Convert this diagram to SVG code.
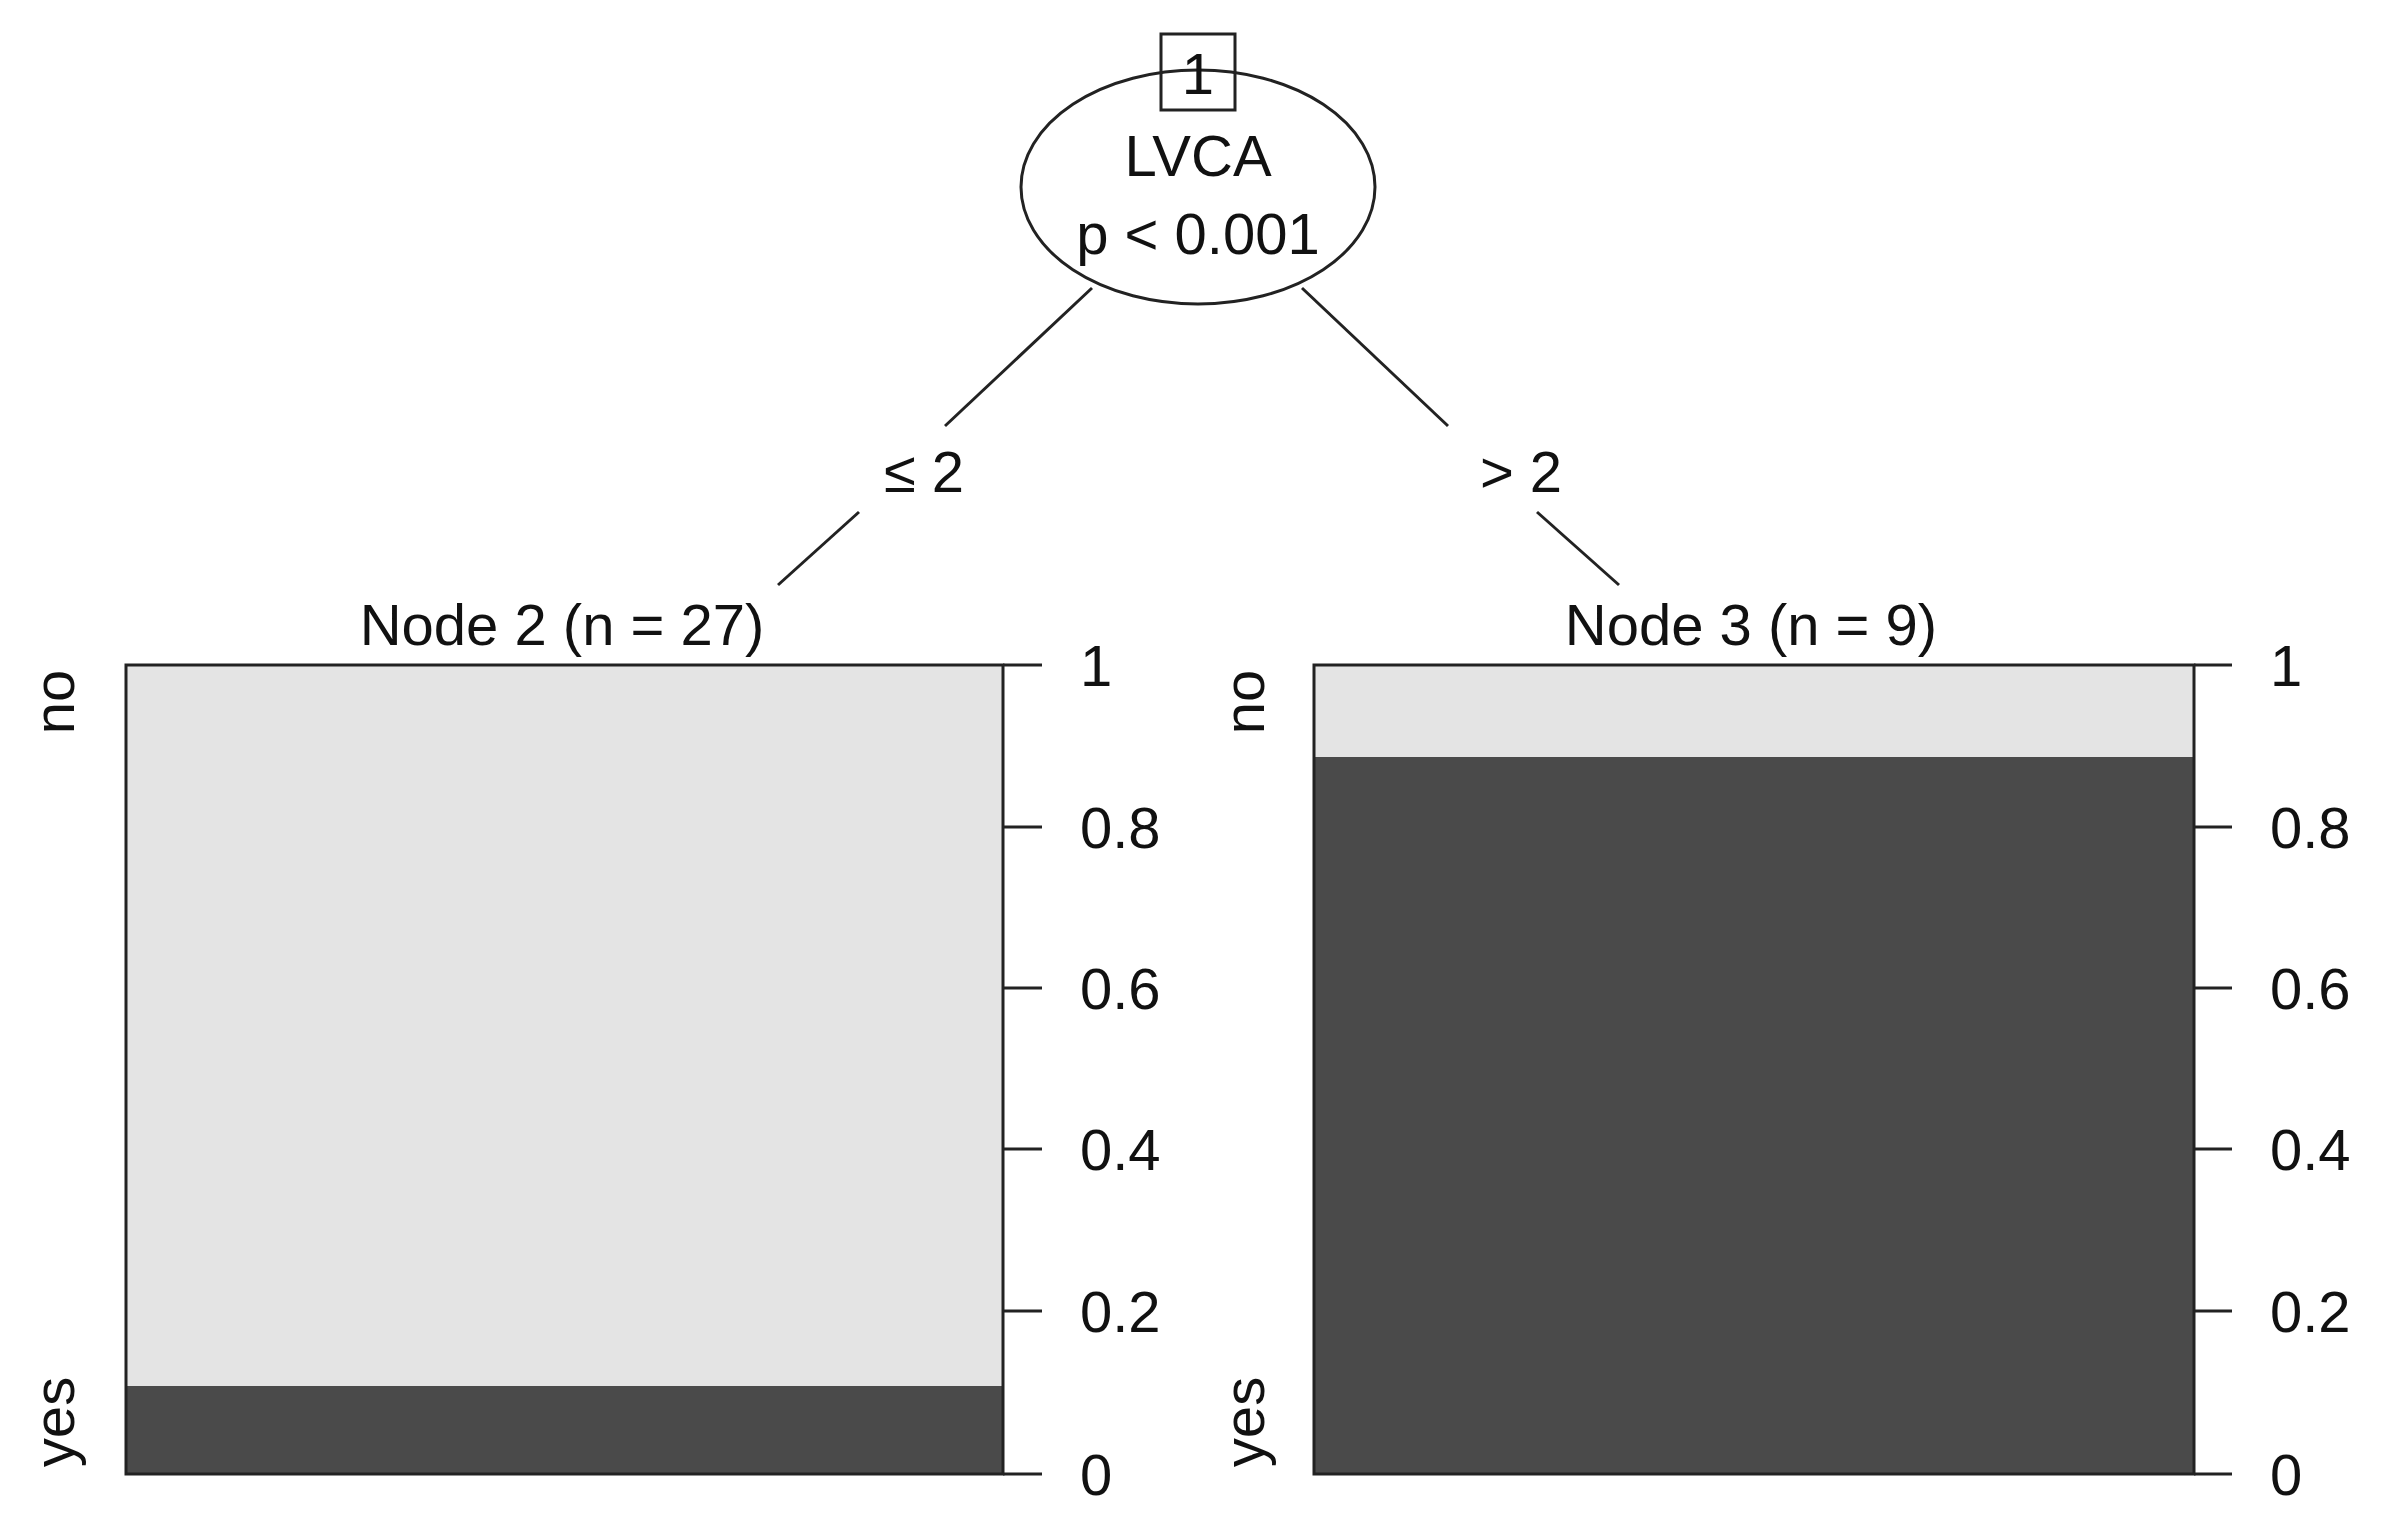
<svg xmlns="http://www.w3.org/2000/svg" width="2390" height="1519" viewBox="0 0 2390 1519">
<style>
text{font-family:"Liberation Sans",Arial,sans-serif;font-size:58px;fill:#111}
.ln{stroke:#222;stroke-width:3;fill:none}
.c{text-anchor:middle}
</style>
<rect width="2390" height="1519" fill="#fff"/>
<g id="connectors">
<line class="ln" x1="1092" y1="288" x2="945" y2="426"/>
<line class="ln" x1="859" y1="512" x2="778" y2="585"/>
<line class="ln" x1="1302" y1="288" x2="1448" y2="426"/>
<line class="ln" x1="1537" y1="512" x2="1619" y2="585"/>
<text class="c" x="924" y="492">≤ 2</text>
<text class="c" x="1521" y="492">&gt; 2</text>
</g>
<g id="node1">
<ellipse class="ln" cx="1198" cy="187" rx="177" ry="117" fill="#fff"/>
<rect class="ln" x="1161" y="34" width="74" height="76" fill="#fff"/>
<text class="c" x="1198" y="94">1</text>
<text class="c" x="1198" y="176">LVCA</text>
<text class="c" x="1198" y="254">p &lt; 0.001</text>
</g>
<g id="node2">
<text class="c" x="562" y="645">Node 2 (n = 27)</text>
<rect x="126" y="665" width="877" height="721" fill="#e4e4e4"/>
<rect x="126" y="1386" width="877" height="88" fill="#4a4a4a"/>
<rect class="ln" x="126" y="665" width="877" height="809"/>
<path class="ln" d="M1003 665H1042M1003 827H1042M1003 988H1042M1003 1149H1042M1003 1311H1042M1003 1474H1042"/>
<text x="1080" y="686">1</text><text x="1080" y="848">0.8</text><text x="1080" y="1009">0.6</text><text x="1080" y="1170">0.4</text><text x="1080" y="1332">0.2</text><text x="1080" y="1495">0</text>
<text class="c" transform="translate(74,702) rotate(-90)">no</text>
<text class="c" transform="translate(74,1422) rotate(-90)">yes</text>
</g>
<g id="node3">
<text class="c" x="1751" y="645">Node 3 (n = 9)</text>
<rect x="1314" y="665" width="880" height="92" fill="#e4e4e4"/>
<rect x="1314" y="757" width="880" height="717" fill="#4a4a4a"/>
<rect class="ln" x="1314" y="665" width="880" height="809"/>
<path class="ln" d="M2194 665H2232M2194 827H2232M2194 988H2232M2194 1149H2232M2194 1311H2232M2194 1474H2232"/>
<text x="2270" y="686">1</text><text x="2270" y="848">0.8</text><text x="2270" y="1009">0.6</text><text x="2270" y="1170">0.4</text><text x="2270" y="1332">0.2</text><text x="2270" y="1495">0</text>
<text class="c" transform="translate(1264,702) rotate(-90)">no</text>
<text class="c" transform="translate(1264,1422) rotate(-90)">yes</text>
</g>
</svg>
